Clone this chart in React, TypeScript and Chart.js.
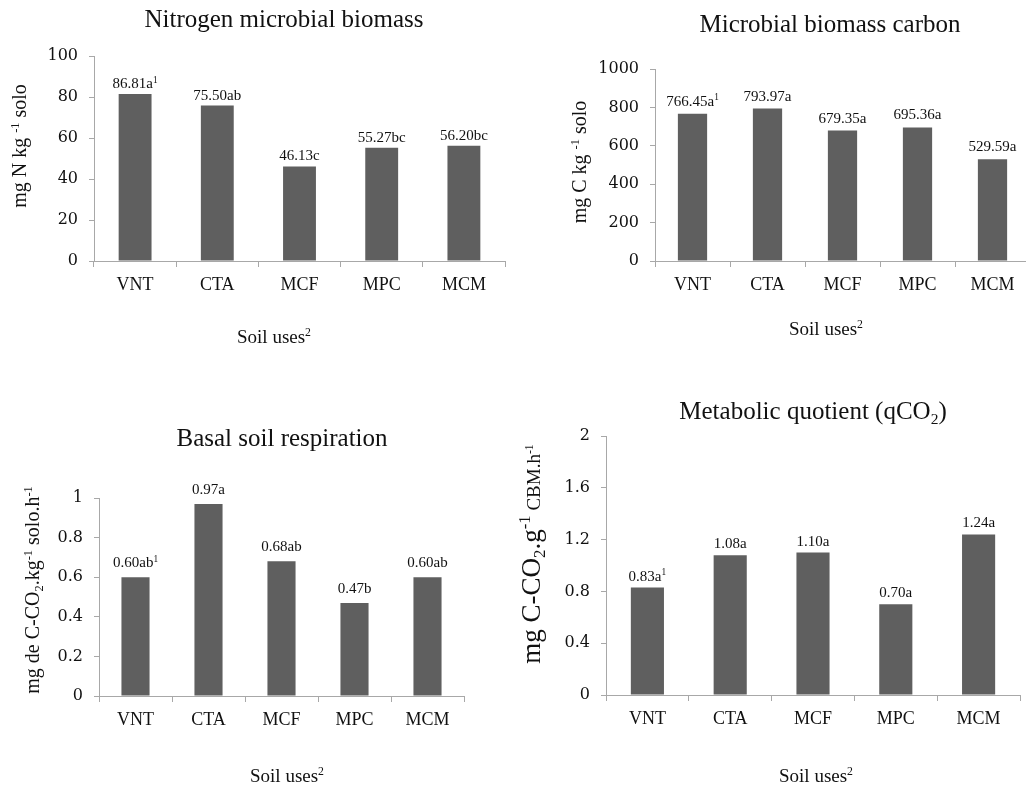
import React, { useEffect, useRef } from 'react';
import { Chart, registerables } from 'chart.js';

Chart.register(...registerables);

// ---------- data ----------
const categories = ['VNT', 'CTA', 'MCF', 'MPC', 'MCM'];

const nitrogenValues = [81.5, 75.8, 46.13, 55.27, 56.2];
const nitrogenLabels = ['86.81a^{1}', '75.50ab', '46.13c', '55.27bc', '56.20bc'];
const nitrogenTicks = { max: 100, step: 20 };

const carbonValues = [766.45, 793.97, 679.35, 695.36, 529.59];
const carbonLabels = ['766.45a^{1}', '793.97a', '679.35a', '695.36a', '529.59a'];
const carbonTicks = { max: 1000, step: 200 };

const respirationValues = [0.6, 0.97, 0.68, 0.47, 0.6];
const respirationLabels = ['0.60ab^{1}', '0.97a', '0.68ab', '0.47b', '0.60ab'];
const respirationTicks = { max: 1, step: 0.2 };

const quotientValues = [0.83, 1.08, 1.1, 0.7, 1.24];
const quotientLabels = ['0.83a^{1}', '1.08a', '1.10a', '0.70a', '1.24a'];
const quotientTicks = { max: 2, step: 0.4 };

// ---------- styles ----------
const SERIF = '"Liberation Serif", "Times New Roman", serif';
const TICK_FONT = '"DejaVu Serif", serif';
const BAR_COLOR = '#5f5f5f';
const AXIS_COLOR = '#a8a8a8';
const TEXT_COLOR = '#111111';

type Part = { src: string; size: number };
type Seg = { text: string; size: number; dy: number };

function parseRich(parts: Part[]): Seg[] {
  const segs: Seg[] = [];
  for (const p of parts) {
    const re = /(\^|_)\{([^}]*)\}/g;
    let last = 0;
    let m: RegExpExecArray | null;
    while ((m = re.exec(p.src))) {
      if (m.index > last) segs.push({ text: p.src.slice(last, m.index), size: p.size, dy: 0 });
      const sup = m[1] === '^';
      segs.push({ text: m[2], size: p.size * 0.62, dy: sup ? -p.size * 0.36 : p.size * 0.2 });
      last = re.lastIndex;
    }
    if (last < p.src.length) segs.push({ text: p.src.slice(last), size: p.size, dy: 0 });
  }
  return segs;
}

function drawRich(
  ctx: CanvasRenderingContext2D,
  parts: Part[],
  x: number,
  y: number,
  rotate: boolean
) {
  const segs = parseRich(parts);
  ctx.save();
  ctx.fillStyle = TEXT_COLOR;
  ctx.textBaseline = 'alphabetic';
  ctx.textAlign = 'left';
  let total = 0;
  const widths = segs.map((s) => {
    ctx.font = `${s.size}px ${SERIF}`;
    const w = ctx.measureText(s.text).width;
    total += w;
    return w;
  });
  ctx.translate(x, y);
  if (rotate) ctx.rotate(-Math.PI / 2);
  let cx = -total / 2;
  segs.forEach((s, i) => {
    ctx.font = `${s.size}px ${SERIF}`;
    ctx.fillText(s.text, cx, s.dy);
    cx += widths[i];
  });
  ctx.restore();
}

function formatTick(v: number | string): string {
  return String(parseFloat(Number(v).toFixed(3)));
}

interface PanelCfg {
  x: number;
  y: number;
  w: number;
  h: number;
  area: { left: number; right: number; top: number; bottom: number };
  values: number[];
  labels: string[];
  ticks: { max: number; step: number };
  title: Part[];
  titlePos: [number, number];
  yTitle: Part[];
  yTitlePos: [number, number];
  xTitle: Part[];
  xTitlePos: [number, number];
  barPct: number;
  labelOffset: number;
}

const panels: PanelCfg[] = [
  {
    x: 0, y: 0, w: 513, h: 394,
    area: { left: 94, right: 505, top: 56, bottom: 261 },
    values: nitrogenValues, labels: nitrogenLabels, ticks: nitrogenTicks,
    title: [{ src: 'Nitrogen microbial biomass', size: 25 }], titlePos: [284, 27],
    yTitle: [{ src: 'mg N kg ^{-1} solo', size: 20 }], yTitlePos: [26, 146],
    xTitle: [{ src: 'Soil uses^{2}', size: 19 }], xTitlePos: [274, 343],
    barPct: 0.4, labelOffset: 6,
  },
  {
    x: 513, y: 0, w: 520, h: 394,
    area: { left: 142, right: 517, top: 69, bottom: 261 },
    values: carbonValues, labels: carbonLabels, ticks: carbonTicks,
    title: [{ src: 'Microbial biomass carbon', size: 25 }], titlePos: [317, 32],
    yTitle: [{ src: 'mg C kg ^{-1} solo', size: 20 }], yTitlePos: [73, 162],
    xTitle: [{ src: 'Soil uses^{2}', size: 19 }], xTitlePos: [313, 335],
    barPct: 0.39, labelOffset: 8,
  },
  {
    x: 0, y: 394, w: 513, h: 394,
    area: { left: 99, right: 464, top: 104, bottom: 302 },
    values: respirationValues, labels: respirationLabels, ticks: respirationTicks,
    title: [{ src: 'Basal soil respiration', size: 25 }], titlePos: [282, 52],
    yTitle: [{ src: 'mg de C-CO_{2}.kg^{-1} solo.h^{-1}', size: 20 }], yTitlePos: [39, 196],
    xTitle: [{ src: 'Soil uses^{2}', size: 19 }], xTitlePos: [287, 388],
    barPct: 0.385, labelOffset: 10,
  },
  {
    x: 513, y: 394, w: 513, h: 394,
    area: { left: 93, right: 507, top: 42, bottom: 301 },
    values: quotientValues, labels: quotientLabels, ticks: quotientTicks,
    title: [{ src: 'Metabolic quotient (qCO_{2})', size: 25 }], titlePos: [300, 25],
    yTitle: [
      { src: 'mg C-CO_{2}.g^{-1}', size: 27 },
      { src: ' CBM.h^{-1}', size: 19 },
    ],
    yTitlePos: [27, 160],
    xTitle: [{ src: 'Soil uses^{2}', size: 19 }], xTitlePos: [303, 388],
    barPct: 0.4, labelOffset: 7,
  },
];

function Panel({ cfg }: { cfg: PanelCfg }) {
  const ref = useRef<HTMLCanvasElement | null>(null);
  useEffect(() => {
    if (!ref.current) return;
    const textPlugin = {
      id: 'panelTexts',
      afterDraw(chart: any) {
        const ctx: CanvasRenderingContext2D = chart.ctx;
        drawRich(ctx, cfg.title, cfg.titlePos[0], cfg.titlePos[1], false);
        drawRich(ctx, cfg.yTitle, cfg.yTitlePos[0], cfg.yTitlePos[1], true);
        drawRich(ctx, cfg.xTitle, cfg.xTitlePos[0], cfg.xTitlePos[1], false);
        const meta = chart.getDatasetMeta(0);
        meta.data.forEach((bar: any, i: number) => {
          drawRich(ctx, [{ src: cfg.labels[i], size: 15 }], bar.x, bar.y - cfg.labelOffset, false);
        });
      },
    };
    const chart = new Chart(ref.current, {
      type: 'bar',
      data: {
        labels: categories,
        datasets: [
          {
            data: cfg.values,
            backgroundColor: BAR_COLOR,
            borderWidth: 0,
            barPercentage: cfg.barPct,
            categoryPercentage: 1,
          },
        ],
      },
      options: {
        animation: false,
        responsive: false,
        maintainAspectRatio: false,
        layout: {
          padding: { left: 0, top: cfg.area.top, right: cfg.w - cfg.area.right, bottom: 0 },
        },
        plugins: {
          legend: { display: false },
          tooltip: { enabled: false },
          title: { display: false },
        },
        scales: {
          x: {
            type: 'category',
            offset: true,
            grid: {
              display: true,
              drawOnChartArea: false,
              drawTicks: true,
              tickLength: 6,
              color: AXIS_COLOR,
              offset: true,
            },
            border: { color: AXIS_COLOR, width: 1 },
            ticks: {
              font: { family: SERIF, size: 18 },
              color: TEXT_COLOR,
              padding: 7,
              maxRotation: 0,
              autoSkip: false,
            },
            afterFit: (s: any) => {
              s.height = cfg.h - cfg.area.bottom;
            },
          },
          y: {
            min: 0,
            max: cfg.ticks.max,
            ticks: {
              stepSize: cfg.ticks.step,
              font: { family: TICK_FONT, size: 16 },
              color: TEXT_COLOR,
              padding: 11,
              callback: (v: number | string) => formatTick(v),
            },
            grid: {
              drawOnChartArea: false,
              drawTicks: true,
              tickLength: 5,
              color: AXIS_COLOR,
            },
            border: { color: AXIS_COLOR, width: 1 },
            afterFit: (s: any) => {
              s.width = cfg.area.left;
            },
          },
        },
      } as any,
      plugins: [textPlugin],
    });
    return () => chart.destroy();
  }, [cfg]);
  return (
    <div style={{ position: 'absolute', left: cfg.x, top: cfg.y, width: cfg.w, height: cfg.h }}>
      <canvas ref={ref} width={cfg.w} height={cfg.h} style={{ display: 'block', width: cfg.w, height: cfg.h }} />
    </div>
  );
}

export default function App() {
  return (
    <div
      style={{
        position: 'absolute',
        left: 0,
        top: 0,
        width: 1026,
        height: 788,
        overflow: 'hidden',
        background: '#ffffff',
      }}
    >
      {panels.map((p, i) => (
        <Panel key={i} cfg={p} />
      ))}
    </div>
  );
}
